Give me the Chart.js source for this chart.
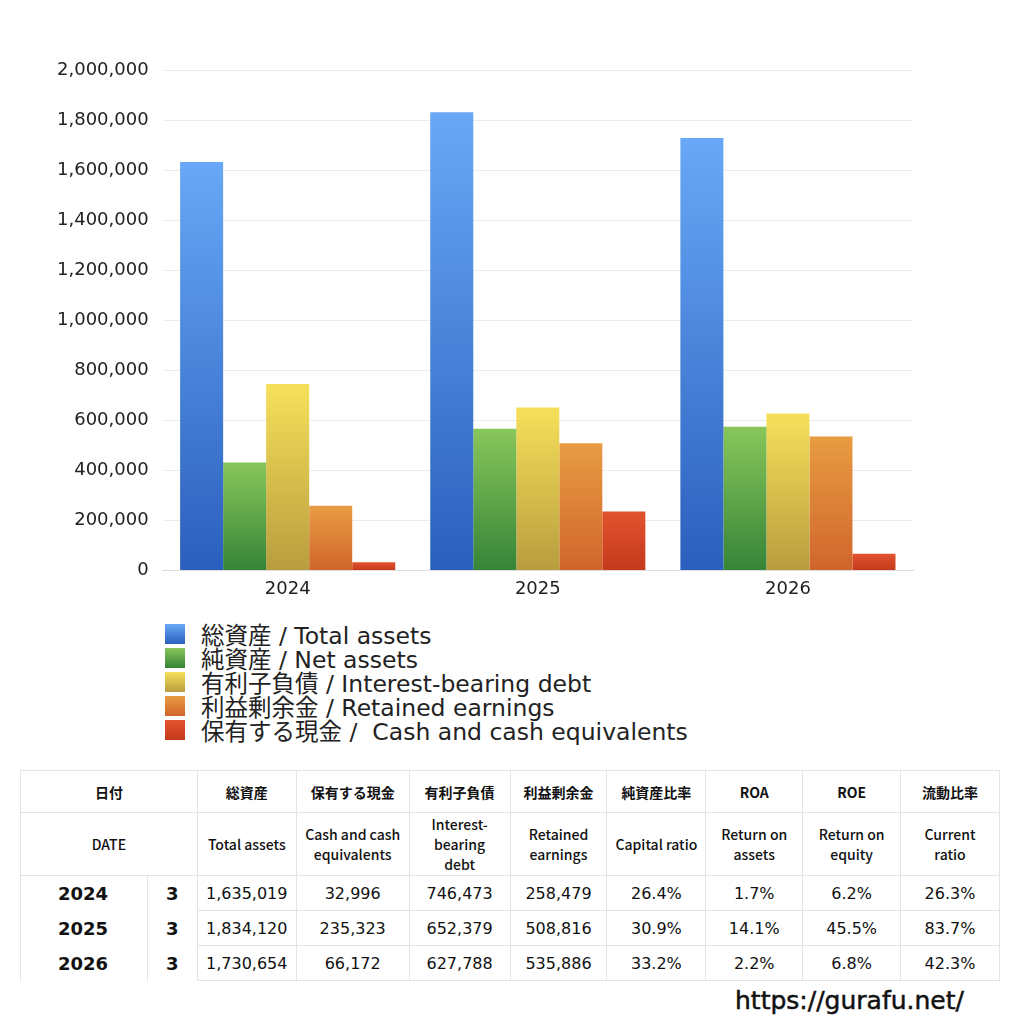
<!DOCTYPE html>
<html>
<head>
<meta charset="utf-8">
<script src="https://cdn.jsdelivr.net/npm/chart.js@4/dist/chart.umd.min.js"></script>
<style>
  body { margin: 0; width: 1024px; height: 1024px; background: #fff; font-family: "Noto Sans CJK JP", "Noto Sans", sans-serif; position: relative; overflow: hidden; }
  #chartBox { position: absolute; left: 43px; top: 46px; width: 887px; height: 554px; }
  #legend { position: absolute; left: 165px; top: 622px; }
  .lg { display: flex; align-items: center; height: 24px; font-size: 23.5px; color: #222; white-space: pre; font-family: "DejaVu Sans", "Noto Sans CJK JP", sans-serif; }
  .lg span.box { width: 20px; height: 20px; margin-right: 16px; }
  table { position: absolute; left: 20px; top: 770px; width: 980px; border-collapse: collapse; color: #111; }
  td { border: 1px solid #e4e4e4; text-align: center; padding: 0; }
  .h1 td { height: 41px; font-size: 14px; font-weight: bold; }
  .h2 td { height: 62px; font-size: 14px; font-weight: 500; line-height: 20px; }
  .d td { height: 34px; font-size: 16px; font-family: "DejaVu Sans", sans-serif; }
  .d td.yr { font-size: 18px; font-weight: bold; text-align: left; padding-left: 37px; border: none; border-left: 1px solid #e4e4e4; }
  .d td.mo { font-size: 18px; font-weight: bold; border-top: none; border-bottom: none; }
  #url { position: absolute; left: 735px; top: 986px; font-size: 25px; color: #111; font-family: "DejaVu Sans", sans-serif; -webkit-text-stroke: 0.5px #111; }
</style>
</head>
<body>
<div id="chartBox"><canvas id="c"></canvas></div>
<div id="legend"></div>
<table id="tbl"></table>
<div id="url">https://gurafu.net/</div>
<script>
const years = ['2024', '2025', '2026'];
const months = ['3', '3', '3'];
const totalAssets = [1635019, 1834120, 1730654];
const netAssets = [431645, 566743, 574577];
const interestDebt = [746473, 652379, 627788];
const retained = [258479, 508816, 535886];
const cash = [32996, 235323, 66172];
const capitalRatio = ['26.4%', '30.9%', '33.2%'];
const roa = ['1.7%', '14.1%', '2.2%'];
const roe = ['6.2%', '45.5%', '6.8%'];
const currentRatio = ['26.3%', '83.7%', '42.3%'];

const seriesNames = ['総資産 / Total assets', '純資産 / Net assets', '有利子負債 / Interest-bearing debt', '利益剰余金 / Retained earnings', '保有する現金 /  Cash and cash equivalents'];
const seriesData = [totalAssets, netAssets, interestDebt, retained, cash];
const topColors = ['#68a8f6', '#88c65a', '#f6e05a', '#e89c42', '#e2522e'];
const bottomColors = ['#2b5fbd', '#368438', '#b89d3e', '#d0652c', '#c43a1c'];

function barFill(i) {
  return function(ctx) {
    const chart = ctx.chart;
    const y = chart.scales.y;
    if (!chart.chartArea || !y || ctx.type !== 'data') return topColors[i];
    const top = y.getPixelForValue(ctx.raw);
    const bottom = y.getPixelForValue(0);
    if (!isFinite(top) || top === bottom) return topColors[i];
    const g = chart.ctx.createLinearGradient(0, top, 0, bottom);
    g.addColorStop(0, topColors[i]);
    g.addColorStop(1, bottomColors[i]);
    return g;
  };
}

const chart = new Chart(document.getElementById('c'), {
  type: 'bar',
  data: {
    labels: years,
    datasets: seriesData.map((d, i) => ({
      label: seriesNames[i],
      data: d,
      backgroundColor: barFill(i),
      categoryPercentage: 0.86,
      barPercentage: 1
    }))
  },
  options: {
    responsive: true,
    maintainAspectRatio: false,
    animation: false,
    layout: { padding: { right: 17, top: 12 } },
    plugins: { legend: { display: false }, tooltip: { enabled: false } },
    scales: {
      x: {
        grid: { display: false },
        border: { color: '#ddd' },
        ticks: { color: '#222', padding: 0, font: { size: 18, family: 'DejaVu Sans' } }
      },
      y: {
        min: 0, max: 2000000,
        ticks: { stepSize: 200000, color: '#222', padding: 14, font: { size: 18, family: 'DejaVu Sans' },
          callback: v => v.toLocaleString('en-US') },
        grid: { color: '#ececec', drawTicks: false },
        border: { display: false }
      }
    }
  }
});

// legend
const lg = document.getElementById('legend');
seriesNames.forEach((n, i) => {
  const row = document.createElement('div');
  row.className = 'lg';
  row.innerHTML = '<span class="box" style="background:linear-gradient(' + topColors[i] + ',' + bottomColors[i] + ')"></span>' + n;
  lg.appendChild(row);
});

// table
const fmt = v => v.toLocaleString('en-US');
let html = '<colgroup><col style="width:127px"><col style="width:50px"><col style="width:99px"><col style="width:113px"><col style="width:101px"><col style="width:97px"><col style="width:99px"><col style="width:97px"><col style="width:98px"><col style="width:99px"></colgroup>';
html += '<tr class="h1"><td colspan="2">日付</td><td>総資産</td><td>保有する現金</td><td>有利子負債</td><td>利益剰余金</td><td>純資産比率</td><td>ROA</td><td>ROE</td><td>流動比率</td></tr>';
html += '<tr class="h2"><td colspan="2">DATE</td><td>Total assets</td><td>Cash and cash<br>equivalents</td><td>Interest-<br>bearing<br>debt</td><td>Retained<br>earnings</td><td>Capital ratio</td><td>Return on<br>assets</td><td>Return on<br>equity</td><td>Current<br>ratio</td></tr>';
years.forEach((y, i) => {
  html += '<tr class="d"><td class="yr">' + y + '</td><td class="mo">' + months[i] + '</td><td>' + fmt(totalAssets[i]) + '</td><td>' + fmt(cash[i]) + '</td><td>' + fmt(interestDebt[i]) + '</td><td>' + fmt(retained[i]) + '</td><td>' + capitalRatio[i] + '</td><td>' + roa[i] + '</td><td>' + roe[i] + '</td><td>' + currentRatio[i] + '</td></tr>';
});
document.getElementById('tbl').innerHTML = html;
</script>
</body>
</html>
